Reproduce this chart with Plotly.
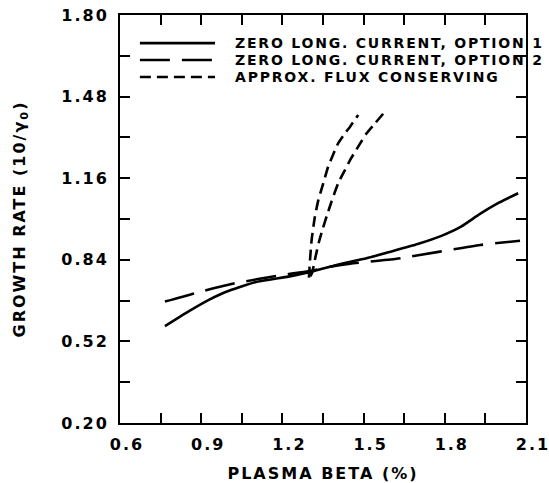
import plotly.graph_objects as go

# Plasma beta (%) versus normalized growth rate (10/gamma_0)
OPT1_BETA = [0.766, 0.852, 0.930, 0.990, 1.099, 1.222, 1.296, 1.400, 1.511, 1.600, 1.700, 1.790, 1.860, 1.930, 2.000, 2.071]
OPT1_RATE = [0.580, 0.637, 0.684, 0.714, 0.752, 0.774, 0.790, 0.820, 0.846, 0.872, 0.902, 0.935, 0.970, 1.020, 1.064, 1.101]

OPT2_BETA = [0.766, 0.877, 1.025, 1.197, 1.296, 1.376, 1.450, 1.622, 1.782, 1.930, 2.078]
OPT2_RATE = [0.676, 0.709, 0.748, 0.780, 0.795, 0.813, 0.825, 0.844, 0.872, 0.898, 0.915]

FLUX_A_BETA = [1.298, 1.299, 1.302, 1.308, 1.320, 1.333, 1.351, 1.369, 1.388, 1.406, 1.431, 1.450, 1.480]
FLUX_A_RATE = [0.770, 0.787, 0.839, 0.918, 1.009, 1.075, 1.140, 1.205, 1.254, 1.297, 1.336, 1.362, 1.408]

FLUX_B_BETA = [1.303, 1.310, 1.322, 1.335, 1.350, 1.364, 1.382, 1.406, 1.431, 1.450, 1.480, 1.511, 1.542, 1.579]
FLUX_B_RATE = [0.775, 0.790, 0.850, 0.910, 0.965, 1.012, 1.070, 1.140, 1.192, 1.231, 1.284, 1.336, 1.375, 1.421]

SERIES_NAMES = [
    "ZERO LONG. CURRENT, OPTION 1",
    "ZERO LONG. CURRENT, OPTION 2",
    "APPROX. FLUX CONSERVING",
]
SERIES_DASH = ["solid", "30px,12px", "11px,6px"]

X_TICKS = [0.6, 0.9, 1.2, 1.5, 1.8, 2.1]
X_TICK_LABELS = ["0.6", "0.9", "1.2", "1.5", "1.8", "2.1"]
Y_TICKS = [0.20, 0.52, 0.84, 1.16, 1.48, 1.80]
Y_TICK_LABELS = ["0.20", "0.52", "0.84", "1.16", "1.48", "1.80"]

X_TITLE = "PLASMA BETA (%)"
Y_TITLE = "GROWTH RATE (10/\u03b3<sub>0</sub>)"

FONT = "DejaVu Sans"
INK = "black"
LW = 2.6

fig = go.Figure()

curves = [
    (OPT1_BETA, OPT1_RATE, 0),
    (OPT2_BETA, OPT2_RATE, 1),
    (FLUX_A_BETA, FLUX_A_RATE, 2),
    (FLUX_B_BETA, FLUX_B_RATE, 2),
]
for xs, ys, k in curves:
    fig.add_trace(go.Scatter(
        x=xs, y=ys, mode="lines", name=SERIES_NAMES[k],
        line=dict(color=INK, width=LW, dash=SERIES_DASH[k], shape="spline", smoothing=0.5),
        showlegend=False, hoverinfo="skip",
    ))

# key in the upper part of the frame: sample line + label per series
key_rows = [0.931, 0.8897, 0.848]
shapes = []
annotations = []
for name, dash, yy in zip(SERIES_NAMES, SERIES_DASH, key_rows):
    shapes.append(dict(type="line", xref="paper", yref="paper",
                       x0=0.049, x1=0.234, y0=yy, y1=yy,
                       line=dict(color=INK, width=LW, dash=dash)))
    annotations.append(dict(xref="paper", yref="paper", x=0.278, y=yy,
                            xanchor="left", yanchor="middle", text=name,
                            showarrow=False,
                            font=dict(family=FONT, size=14, color=INK, weight="bold")))

axis_common = dict(
    showline=True, linewidth=2, linecolor=INK, mirror="ticks",
    ticks="inside", ticklen=10, tickwidth=2, tickcolor=INK,
    showgrid=False, zeroline=False, automargin=False,
    tickfont=dict(family=FONT, size=16, color=INK, weight="bold"),
)

fig.update_layout(
    width=549, height=483,
    margin=dict(l=120, r=23, t=15, b=60),
    paper_bgcolor="white", plot_bgcolor="white",
    font=dict(family=FONT, color=INK),
    shapes=shapes, annotations=annotations,
    xaxis=dict(
        range=[0.6, 2.1], tickmode="array", tickvals=X_TICKS, ticktext=X_TICK_LABELS,
        minor=dict(ticks="inside", dtick=0.15, tick0=0.6, ticklen=10, tickwidth=2, tickcolor=INK),
        ticklabelshift=7, ticklabelstandoff=6,
        title=dict(text=X_TITLE, standoff=22,
                   font=dict(family=FONT, size=16, color=INK, weight="bold")),
        **axis_common,
    ),
    yaxis=dict(
        range=[0.2, 1.8], tickmode="array", tickvals=Y_TICKS, ticktext=Y_TICK_LABELS,
        minor=dict(ticks="inside", dtick=0.16, tick0=0.2, ticklen=10, tickwidth=2, tickcolor=INK),
        ticklabelstandoff=6,
        title=dict(text=Y_TITLE, standoff=40,
                   font=dict(family=FONT, size=16, color=INK, weight="bold")),
        **axis_common,
    ),
)

# widen the lettering of all labels; key labels keep their left edge
tracking_js = """
var gd = document.getElementById('{plot_id}');
function track() {
  gd.querySelectorAll('.xtick text, .ytick text, .annotation-text, .xtitle, .ytitle').forEach(function (t) {
    if (t.getAttribute('data-tracked')) return;
    var isKey = t.classList.contains('annotation-text');
    var w0 = t.getBBox().width;
    t.style.letterSpacing = isKey ? '1.8px' : '2px';
    var w1 = t.getBBox().width;
    if (isKey) {
      var x = parseFloat(t.getAttribute('x')) || 0;
      t.setAttribute('x', x + (w1 - w0) / 2);
    }
    t.setAttribute('data-tracked', '1');
  });
}
track();
gd.on('plotly_afterplot', track);
"""

fig.write_html("out.html", post_script=tracking_js)
